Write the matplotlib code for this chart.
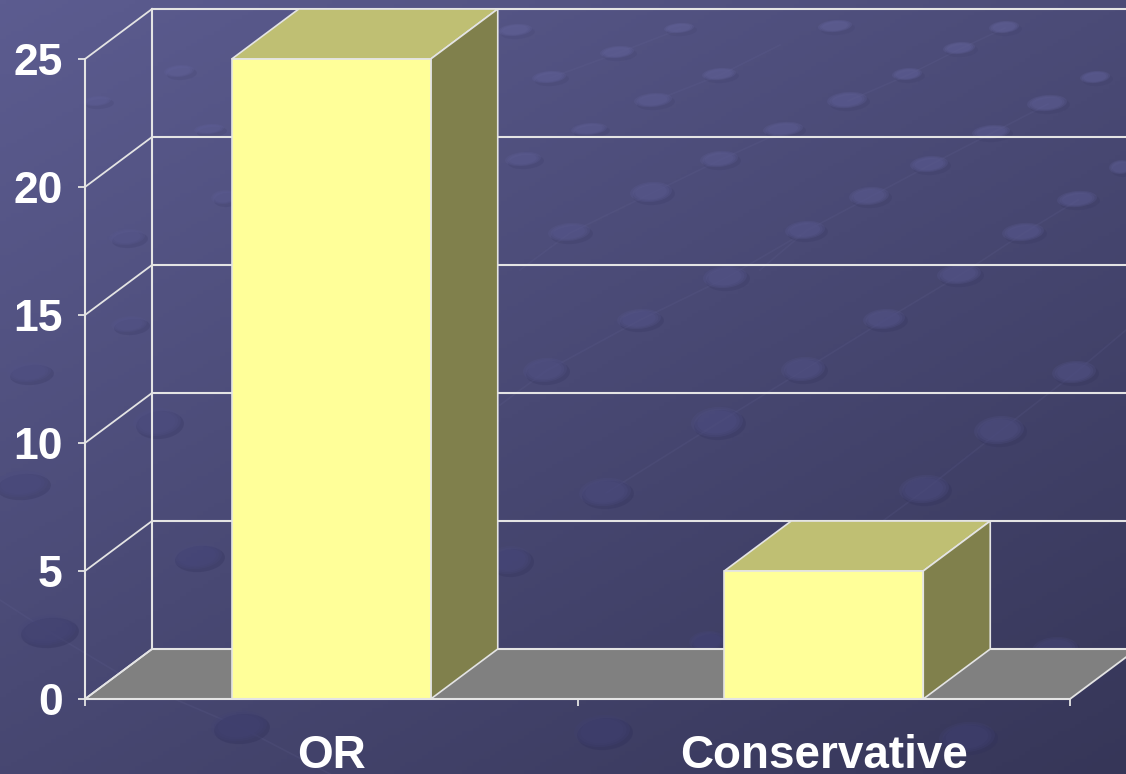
# -*- coding: utf-8 -*-
import matplotlib.pyplot as plt
import numpy as np
from matplotlib.patches import Ellipse, Polygon

plt.rcParams['font.family'] = ['Liberation Sans', 'DejaVu Sans']

categories = ['OR', 'Conservative']
values = [25, 5]
y_ticks = [0, 5, 10, 15, 20, 25]

# Размер картинки и положение передней плоскости в пикселях
W, H = 1126, 774
X0, X_UNIT = 85, 492.5
Y0, Y_UNIT = 699, 25.6
# Глубина псевдо-3D
DX = 67 / X_UNIT
DY = 50 / Y_UNIT
BAR_W = 199 / X_UNIT

LINE = '#e4e4e4'
FRONT = '#ffff99'
TOP = '#bfbf73'
SIDE = '#80804c'
FLOOR = '#808080'

# Пятна на фоне: x, y, ширина, высота (пиксели)
dots = [(22, 485, 54, 26), (48, 631, 58, 30), (198, 557, 50, 26), (240, 727, 56, 30),
        (158, 423, 48, 28), (30, 373, 44, 20), (130, 325, 36, 16), (128, 238, 36, 16),
        (180, 72, 30, 12), (210, 130, 30, 10), (98, 102, 28, 10), (225, 198, 26, 14),
        (510, 561, 44, 28), (606, 493, 52, 28), (718, 423, 52, 30), (546, 371, 44, 24),
        (640, 320, 44, 20), (726, 278, 44, 22), (570, 233, 42, 18), (652, 193, 42, 20),
        (720, 160, 38, 16), (524, 160, 36, 14), (590, 130, 36, 12), (654, 101, 38, 14),
        (720, 75, 34, 12), (550, 78, 34, 12), (618, 53, 34, 12), (680, 29, 30, 10),
        (516, 31, 34, 12), (784, 130, 40, 14), (848, 101, 40, 16), (806, 231, 40, 18),
        (870, 197, 40, 18), (930, 165, 38, 16), (804, 370, 44, 24), (885, 320, 42, 20),
        (960, 275, 44, 20), (1024, 233, 42, 18), (1078, 200, 40, 16), (1000, 431, 50, 28),
        (925, 490, 50, 28), (1075, 373, 44, 22), (992, 133, 38, 14), (1048, 104, 40, 16),
        (908, 75, 30, 12), (960, 49, 32, 12), (1005, 28, 30, 12), (1096, 78, 30, 12),
        (836, 27, 34, 12), (603, 732, 56, 32), (968, 738, 56, 30), (1056, 650, 46, 24),
        (708, 642, 36, 20), (1122, 168, 24, 14)]
# Едва заметные диагональные линии между пятнами
streaks = [((500, 405), (546, 371), (640, 320), (726, 278), (800, 235)),
           ((520, 270), (570, 233), (652, 193), (720, 160), (775, 135)),
           ((606, 493), (718, 423), (804, 370), (885, 320), (960, 275), (1024, 233), (1078, 200)),
           ((760, 270), (806, 231), (870, 197), (930, 165), (992, 133), (1048, 104)),
           ((850, 545), (925, 490), (1000, 431), (1075, 373), (1126, 330)),
           ((848, 101), (908, 75), (960, 49), (1005, 28)),
           ((654, 101), (720, 75), (780, 45)),
           ((550, 78), (618, 53), (680, 29)),
           ((0, 600), (48, 631), (130, 680), (240, 727), (330, 774))]

fig = plt.figure(figsize=(W / 100, H / 100), dpi=100)

# Фон: градиент и пятна
bg = fig.add_axes([0, 0, 1, 1])
bg.set_xlim(0, W)
bg.set_ylim(H, 0)
bg.axis('off')
xx, yy = np.meshgrid(np.linspace(0, 1, 200), np.linspace(0, 1, 200))
t = (xx * 0.6 + yy * 0.75)[..., None] / 1.35
c1 = np.array([0x5c, 0x5c, 0x90]) / 255
c2 = np.array([0x36, 0x36, 0x58]) / 255
bg.imshow(c1 + (c2 - c1) * t, extent=[0, W, H, 0], aspect='auto', zorder=0)
light_top = np.array([0x64, 0x64, 0x9c]) / 255
light_bottom = np.array([0x40, 0x40, 0x70]) / 255
for s in streaks:
    sx, sy = zip(*s)
    bg.plot(sx, sy, color='#6a6a9c', lw=1.2, alpha=0.14, zorder=1)
for x, y, w, h in dots:
    k = y / H
    col = light_top + (light_bottom - light_top) * k
    # мягкая тень снизу справа и светлое пятно сверху
    bg.add_patch(Ellipse((x + 2, y + 2), w, h, angle=-5, color='#30305a', alpha=0.08 + 0.3 * k, lw=0, zorder=1))
    for f in [1.0, 0.88, 0.76]:
        bg.add_patch(Ellipse((x - 1, y - 1), w * f, h * f, angle=-5, color=col, alpha=0.28, lw=0, zorder=2))

# Основная ось: единицы данных совпадают с передней плоскостью
ax = fig.add_axes([0, 0, 1, 1], facecolor='none')
ax.set_xlim(-X0 / X_UNIT, (W - X0) / X_UNIT)
ax.set_ylim((Y0 - H) / Y_UNIT, Y0 / Y_UNIT)

x_end = len(categories)
x_right = ax.get_xlim()[1]

# Пол
ax.add_patch(Polygon([(0, 0), (DX, DY), (x_right, DY), (x_right, DY * (x_right - x_end) / DX), (x_end, 0)],
                     fc=FLOOR, ec='none', zorder=3))
ax.plot([0, DX], [0, DY], color=LINE, lw=1.3, zorder=3)
ax.plot([x_end, x_right], [0, DY * (x_right - x_end) / DX], color=LINE, lw=1.3, zorder=3)

# Сетка на задней стенке и наклонные линии на боковой
ax.plot([DX, DX], [DY, y_ticks[-1] + DY], color=LINE, lw=1.5, zorder=3)
for v in y_ticks:
    ax.plot([DX, x_right], [v + DY, v + DY], color=LINE, lw=1.5, zorder=3)
    ax.plot([0, DX], [v, v + DY], color=LINE, lw=1.3, zorder=3)

# Столбцы
centers = np.arange(len(categories)) + 0.5
ax.bar(centers, values, width=BAR_W, color=FRONT, edgecolor=LINE, lw=1.2, zorder=5)
for c, v in zip(centers, values):
    l, r = c - BAR_W / 2, c + BAR_W / 2
    ax.add_patch(Polygon([(l, v), (r, v), (r + DX, v + DY), (l + DX, v + DY)],
                         fc=TOP, ec=LINE, lw=1.2, zorder=4))
    ax.add_patch(Polygon([(r, 0), (r + DX, DY), (r + DX, v + DY), (r, v)],
                         fc=SIDE, ec=LINE, lw=1.2, zorder=4))

# Оси
for s in ['top', 'right']:
    ax.spines[s].set_visible(False)
ax.spines['left'].set_position(('data', 0))
ax.spines['bottom'].set_position(('data', 0))
ax.spines['left'].set_bounds(0, y_ticks[-1])
ax.spines['bottom'].set_bounds(0, x_end)
for s in ['left', 'bottom']:
    ax.spines[s].set_color(LINE)
    ax.spines[s].set_linewidth(1.5)
    ax.spines[s].set_zorder(6)

ax.set_yticks(y_ticks)
ax.set_yticklabels([str(v) for v in y_ticks], fontsize=32, fontweight='bold', color='white')
ax.tick_params(axis='y', length=5, width=1.3, color=LINE, pad=11)
ax.set_xticks(np.arange(x_end + 1))
ax.set_xticklabels([])
ax.tick_params(axis='x', which='major', length=5, width=1.3, color=LINE)
ax.set_xticks(centers, minor=True)
ax.set_xticklabels(categories, minor=True, fontsize=33, fontweight='bold', color='white')
ax.tick_params(axis='x', which='minor', length=0, pad=25)

fig.savefig('out.png', dpi=100)
